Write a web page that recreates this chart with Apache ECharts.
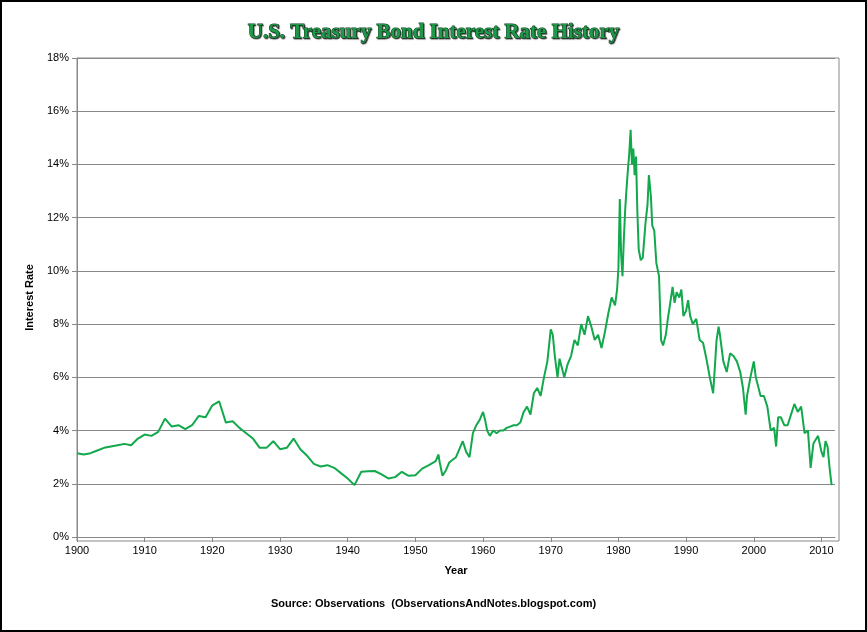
<!DOCTYPE html>
<html><head><meta charset="utf-8">
<script src="https://cdn.jsdelivr.net/npm/echarts@6/dist/echarts.min.js"></script>
<style>html,body{margin:0;padding:0;background:#fff}#c{width:867px;height:632px;box-sizing:border-box;border:2px solid #000}</style>
</head><body><div id="c"></div>
<script>
const years = [1900,1901,1902,1903,1904,1905,1906,1907,1908,1909,1910,1911,1912,1913,1914,1915,1916,1917,1918,1919,1920,1921,1922,1923,1924,1925,1926,1927,1928,1929,1930,1931,1932,1933,1934,1935,1936,1937,1938,1939,1940,1941,1942,1943,1944,1945,1946,1947,1948,1949,1950,1951,1952,1953,1953.4,1953.6,1954,1954.5,1955,1955.5,1956,1956.5,1957,1957.5,1958,1958.5,1959,1959.5,1960,1960.3,1960.6,1961,1961.5,1962,1962.5,1963,1963.5,1964,1964.5,1965,1965.5,1966,1966.5,1967,1967.5,1968,1968.5,1969,1969.5,1970,1970.3,1970.6,1971,1971.3,1971.6,1972,1972.5,1973,1973.5,1974,1974.5,1975,1975.5,1976,1976.5,1977,1977.5,1978,1978.5,1979,1979.5,1979.8,1980,1980.2,1980.4,1980.6,1980.8,1981,1981.2,1981.4,1981.6,1981.8,1982,1982.2,1982.4,1982.6,1982.8,1983,1983.3,1983.6,1984,1984.3,1984.5,1984.8,1985,1985.3,1985.6,1986,1986.3,1986.6,1987,1987.3,1987.6,1988,1988.3,1988.6,1989,1989.3,1989.6,1990,1990.3,1990.6,1991,1991.5,1992,1992.5,1993,1993.5,1994,1994.5,1994.8,1995,1995.5,1996,1996.5,1997,1997.5,1998,1998.4,1998.8,1999,1999.5,2000,2000.3,2000.6,2001,2001.5,2002,2002.5,2003,2003.3,2003.6,2004,2004.5,2005,2005.5,2006,2006.5,2007,2007.5,2008,2008.4,2008.8,2009,2009.5,2010,2010.3,2010.6,2010.9,2011.2,2011.5,2011.8];
const rates = [3.15,3.1,3.15,3.25,3.35,3.4,3.45,3.5,3.45,3.7,3.85,3.8,3.95,4.45,4.15,4.2,4.05,4.2,4.55,4.5,4.95,5.1,4.3,4.35,4.1,3.9,3.7,3.35,3.35,3.6,3.3,3.35,3.7,3.3,3.05,2.75,2.65,2.7,2.6,2.4,2.2,1.95,2.45,2.47,2.48,2.35,2.2,2.25,2.45,2.3,2.32,2.57,2.7,2.85,3.1,2.8,2.3,2.5,2.8,2.9,3.0,3.3,3.6,3.2,3.0,3.9,4.2,4.4,4.7,4.4,4.0,3.8,4.0,3.9,4.0,4.0,4.1,4.15,4.2,4.2,4.3,4.7,4.9,4.6,5.4,5.6,5.3,6.0,6.6,7.8,7.6,6.8,6.0,6.7,6.4,6.0,6.5,6.8,7.4,7.2,8.0,7.6,8.3,7.9,7.4,7.6,7.1,7.7,8.4,9.0,8.7,9.3,10.1,12.7,10.6,9.8,11.2,12.3,13.1,13.8,14.4,15.3,14.0,14.6,13.6,14.3,12.2,10.8,10.4,10.5,11.8,12.5,13.6,12.8,11.7,11.5,10.3,9.8,7.4,7.2,7.6,8.2,8.7,9.4,8.8,9.2,9.0,9.3,8.3,8.5,8.9,8.3,8.0,8.2,7.4,7.3,6.7,6.0,5.4,7.4,7.9,7.6,6.6,6.2,6.9,6.8,6.6,6.2,5.6,4.6,5.3,6.0,6.6,6.0,5.7,5.3,5.3,4.9,4.0,4.1,3.4,4.5,4.5,4.2,4.2,4.6,5.0,4.7,4.9,3.9,4.0,2.6,3.5,3.6,3.8,3.2,3.0,3.6,3.4,2.6,1.95];
const yTicks = [0,2,4,6,8,10,12,14,16,18];

const data = years.map((y,i)=>[y,rates[i]]);
const chart = echarts.init(document.getElementById('c'));
chart.setOption({
  animation:false,
  title:{text:'U.S. Treasury Bond Interest Rate History',left:'center',top:15,
    textStyle:{fontFamily:'Liberation Sans Narrow',fontSize:21,fontWeight:'bold',color:'#1d9a48',textBorderColor:'#0b3d1c',textBorderWidth:1,textShadowColor:'rgba(0,0,0,0.6)',textShadowOffsetX:1,textShadowOffsetY:1,textShadowBlur:1}},
  grid:{left:75,right:30,top:56,bottom:93},
  xAxis:{type:'value',min:1900,max:2012,interval:10,name:'Year',nameLocation:'middle',nameGap:28,
    nameTextStyle:{fontFamily:'Liberation Sans',fontWeight:'bold',fontSize:11,color:'#000'},
    axisLine:{lineStyle:{color:'#888'}},axisTick:{show:true,lineStyle:{color:'#888'}},splitLine:{show:false},
    axisLabel:{color:'#000',fontSize:11,fontFamily:'Liberation Sans',showMaxLabel:false,formatter:v=>String(v)}},
  yAxis:{type:'value',min:0,max:18,interval:2,name:'Interest Rate',nameLocation:'middle',nameGap:42,
    nameTextStyle:{fontFamily:'Liberation Sans',fontWeight:'bold',fontSize:11,color:'#000'},
    axisLine:{show:true,lineStyle:{color:'#888'}},axisTick:{show:true,lineStyle:{color:'#888'}},
    splitLine:{lineStyle:{color:'#888',width:1}},
    axisLabel:{color:'#000',fontSize:11,fontFamily:'Liberation Sans',formatter:v=>yTicks.includes(v)?v+'%':''}},
  graphic:[
    {type:'rect',shape:{x:75,y:56,width:762,height:483},style:{fill:'none',stroke:'#888',lineWidth:1},silent:true},
    {type:'text',left:'center',top:596,style:{text:'Source: Observations  (ObservationsAndNotes.blogspot.com)',font:'bold 11px Liberation Sans',fill:'#000'}}
  ],
  series:[{type:'line',data:data,showSymbol:false,lineStyle:{color:'#12a84c',width:2}}]
});
</script></body></html>
